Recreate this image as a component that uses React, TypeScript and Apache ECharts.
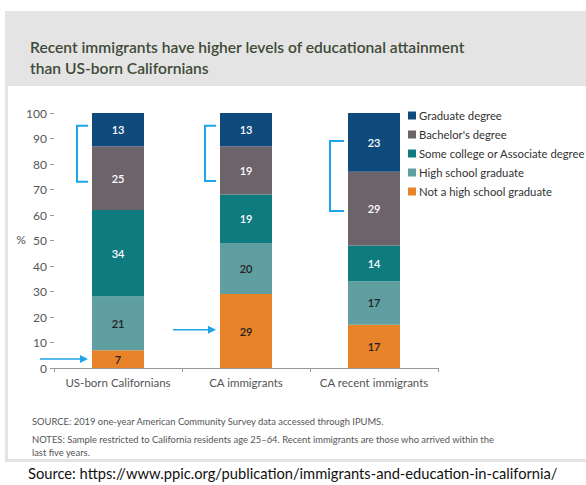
import React, { useEffect, useRef } from "react";
import * as echarts from "echarts";

const categories = ["US-born Californians", "CA immigrants", "CA recent immigrants"];
const notHighSchool = [7, 29, 17];
const highSchool = [21, 20, 17];
const someCollege = [34, 19, 14];
const bachelors = [25, 19, 29];
const graduate = [13, 13, 23];
const seriesNames = [
  "Not a high school graduate",
  "High school graduate",
  "Some college or Associate degree",
  "Bachelor's degree",
  "Graduate degree",
];
const seriesColors = ["#e8832a", "#5f9ea1", "#0e7c7f", "#6d636b", "#0f4a7c"];
const labelColors = ["#222222", "#222222", "#ffffff", "#ffffff", "#ffffff"];
const yTicks = [0, 10, 20, 30, 40, 50, 60, 70, 80, 90, 100];
const yAxisTitle = "%";
// bracket ranges [low, high] for each category (value units)
const bracketRanges = [
  [73, 95],
  [73.3, 95],
  [61.6, 89],
];
// arrows: [category index, value]
const arrowPoints = [
  [0, 3.5],
  [1, 15],
];

const titleText = "Recent immigrants have higher levels of educational attainment\nthan US-born Californians";
const sourceNote = "SOURCE: 2019 one-year American Community Survey data accessed through IPUMS.";
const notesText =
  "NOTES: Sample restricted to California residents age 25–64. Recent immigrants are those who arrived within the\nlast five years.";
const sourceUrl = "Source: https://www.ppic.org/publication/immigrants-and-education-in-california/";

export default function App() {
  const ref = useRef<HTMLDivElement>(null);
  useEffect(() => {
    const chart = echarts.init(ref.current!, null, { renderer: "svg" });
    const values = [notHighSchool, highSchool, someCollege, bachelors, graduate];
    const barWidth = 52;
    const font = "Lato, 'Open Sans', sans-serif";
    chart.setOption({
      animation: false,
      backgroundColor: "#ffffff",
      textStyle: { fontFamily: font },
      title: {
        text: titleText,
        left: 25,
        top: 31,
        textStyle: { fontFamily: font, fontSize: 15.6, fontWeight: 600, color: "#3f4b38", lineHeight: 21 },
      },
      legend: {
        orient: "vertical",
        left: 403,
        top: 105,
        itemWidth: 8,
        itemHeight: 8,
        itemGap: 8,
        icon: "rect",
        data: [...seriesNames].reverse(),
        textStyle: { fontFamily: font, fontSize: 11.3, color: "#333333", padding: [0, 0, 0, -2] },
      },
      grid: { left: 54, right: 148, top: 113, bottom: 117, containLabel: false },
      xAxis: {
        type: "category",
        data: categories,
        axisLine: { lineStyle: { color: "#9a9a9a", width: 1 } },
        axisTick: { show: true, length: 4, alignWithLabel: false, lineStyle: { color: "#9a9a9a" } },
        axisLabel: { color: "#555555", fontSize: 11.5, margin: 8, fontFamily: font, interval: 0, hideOverlap: false },
      },
      yAxis: {
        type: "value",
        min: 0,
        max: 100,
        interval: 10,
        axisLine: { show: false },
        axisTick: { show: true, length: 4, lineStyle: { color: "#9a9a9a" } },
        splitLine: { show: false },
        axisLabel: {
          color: "#555555",
          fontSize: 12,
          margin: 7,
          fontFamily: font,
          formatter: (v: number) => (yTicks.includes(v) ? String(v) : ""),
        },
      },
      series: values.map((vals, i) => ({
        name: seriesNames[i],
        type: "bar",
        stack: "total",
        barWidth,
        data: vals,
        itemStyle: { color: seriesColors[i] },
        label: {
          show: true,
          position: "inside",
          color: labelColors[i],
          fontSize: 11,
          fontWeight: 600,
          fontFamily: font,
        },
      })),
    });

    const blue = "#1ea5e9";
    const mid = chart.convertToPixel({ gridIndex: 0 }, [0, 50]) as number[];
    const graphics: any[] = [
      { type: "rect", z: -10, shape: { x: 5, y: 11, width: 581, height: 75 }, style: { fill: "#e4e4e4" } },
      { type: "rect", z: -10, shape: { x: 5, y: 86, width: 3, height: 376 }, style: { fill: "#e4e4e4" } },
      { type: "rect", z: -10, shape: { x: 5, y: 459, width: 581, height: 3 }, style: { fill: "#e4e4e4" } },
      {
        type: "text",
        x: 21,
        y: mid[1] - 1,
        style: {
          text: yAxisTitle,
          fontSize: 12,
          fill: "#555555",
          fontFamily: font,
          align: "center",
          verticalAlign: "middle",
        },
      },
      {
        type: "text",
        x: 32,
        y: 417,
        style: { text: sourceNote, fontSize: 9.4, fill: "#555555", fontFamily: font },
      },
      {
        type: "text",
        x: 32,
        y: 433,
        style: { text: notesText, fontSize: 9.4, lineHeight: 13, fill: "#555555", fontFamily: font },
      },
      {
        type: "text",
        x: 28,
        y: 465,
        style: { text: sourceUrl, fontSize: 14.7, fill: "#111111", fontFamily: font },
      },
    ];
    bracketRanges.forEach((r, ci) => {
      const top = chart.convertToPixel({ gridIndex: 0 }, [ci, r[1]]) as number[];
      const bot = chart.convertToPixel({ gridIndex: 0 }, [ci, r[0]]) as number[];
      const barLeft = top[0] - barWidth / 2;
      const vx = barLeft - (ci === 2 ? 18 : 15);
      const ax = barLeft - 4;
      graphics.push({
        type: "polyline",
        shape: { points: [[ax, top[1]], [vx, top[1]], [vx, bot[1]], [ax, bot[1]]] },
        style: { stroke: blue, lineWidth: 2, fill: null },
      });
    });
    arrowPoints.forEach(([ci, v]) => {
      const p = chart.convertToPixel({ gridIndex: 0 }, [ci, v]) as number[];
      const barLeft = p[0] - barWidth / 2;
      const tip = barLeft - 4;
      const start = tip - (ci === 0 ? 48 : 43);
      graphics.push({
        type: "line",
        shape: { x1: start, y1: p[1], x2: tip - 6, y2: p[1] },
        style: { stroke: blue, lineWidth: 1.5 },
      });
      graphics.push({
        type: "polygon",
        shape: { points: [[tip - 8, p[1] - 4], [tip, p[1]], [tip - 8, p[1] + 4]] },
        style: { fill: blue },
      });
    });
    chart.setOption({ graphic: graphics });
    return () => chart.dispose();
  }, []);
  return (
    <div
      ref={ref}
      style={{ position: "fixed", left: 0, top: 0, width: 586, height: 485 }}
    />
  );
}
